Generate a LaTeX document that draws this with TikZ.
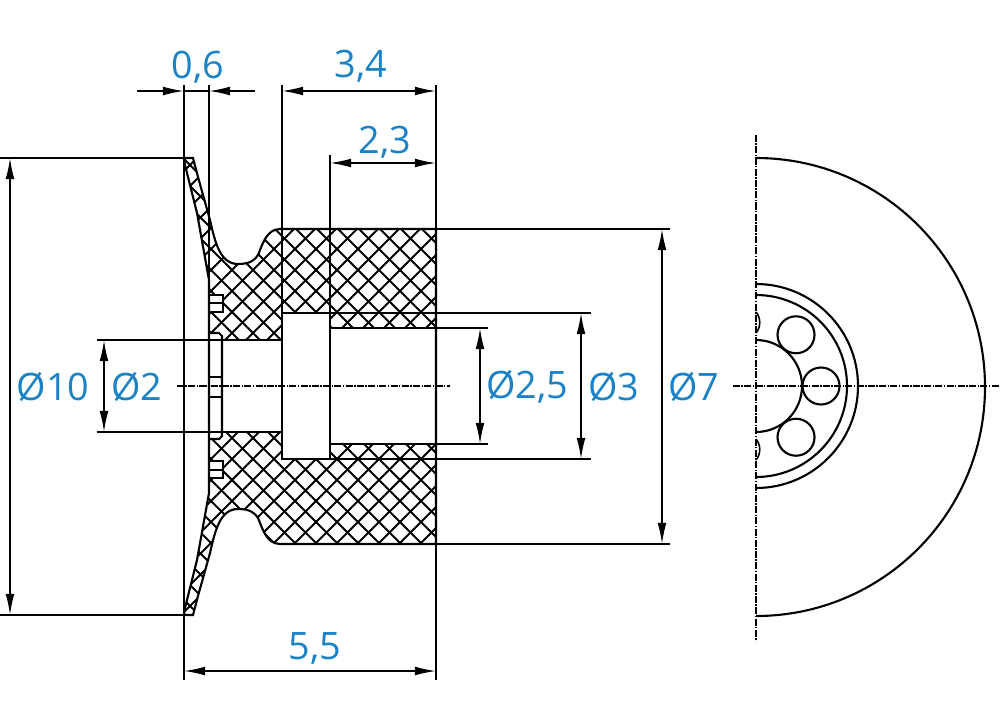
\documentclass[tikz,border=0pt]{standalone}
\usepackage{fontspec}
\setmainfont{Open Sans}
\usetikzlibrary{arrows.meta}
\definecolor{dimblue}{HTML}{1B82C5}
\tikzset{
  edge/.style={line width=1.2pt,black},
  thin edge/.style={line width=0.9pt,black},
  hatchline/.style={line width=1.1pt,black},
  axis/.style={line width=0.7pt,black,dash pattern=on 4pt off 0.8pt on 0.8pt off 0.8pt},
  dimline/.style={line width=0.9pt,black,{Latex[length=12pt,width=5pt]}-{Latex[length=12pt,width=5pt]}},
  oneway/.style={line width=0.9pt,black,-{Latex[length=12pt,width=5pt]}},
  dimtext/.style={text=dimblue,inner sep=0pt,font=\fontsize{21.5}{24}\selectfont}
}
\newcommand{\sectionoutline}{(185,165) -- (184,158) -- (193,158) -- (198,177) -- (210,220)
  .. controls (215,242) and (220,264) .. (238,264)
  .. controls (250,264) and (255,260) .. (258,255)
  .. controls (262,246) and (266,229) .. (280,229) -- (436,229) -- (436,544) -- (280,544)
  .. controls (266,544) and (262,527) .. (258,518)
  .. controls (255,513) and (250,509) .. (238,509)
  .. controls (220,509) and (215,531) .. (210,553)
  -- (198,596) -- (193,615) -- (184,615) -- (185,608) -- (197,560) -- (209,493) -- (209,280) -- (197,213) -- cycle}
\begin{document}
\begin{tikzpicture}[x=0.02cm,y=-0.02cm]
  \useasboundingbox (0,0) rectangle (1000,714);
  % hatching of the cut
  \begin{scope}
    \clip \sectionoutline;
    \foreach \i in {-392,-371,...,440} \draw[hatchline] (\i,150) -- ++(470,470);
    \foreach \i in {184,205,...,920} \draw[hatchline] (\i,150) -- ++(-470,470);
  \end{scope}
  % bore and tabs
  \fill[white] (209,340) rectangle (282,432);
  \fill[white] (282,313) rectangle (330,459);
  \fill[white] (330,328) rectangle (436,444);
  \fill[white] (209,333) rectangle (222,340);
  \fill[white] (209,432) rectangle (222,439);
  \fill[white] (209,295) rectangle (223,312);
  \fill[white] (209,461) rectangle (223,478);
  \draw[edge] \sectionoutline;
  \draw[edge] (209,295) -| (223,312) -- (209,312) (209,303) -- (223,303);
  \draw[edge] (209,461) -| (223,478) -- (209,478) (209,470) -- (223,470);
  \draw[edge] (209,333) -- (219,333) -- (222,336) -- (222,436) -- (219,439) -- (209,439);
  \draw[edge] (209,377) -- (222,377) (209,397) -- (222,397);
  \draw[edge] (282,313) rectangle (330,459);
  \draw[edge] (330,328) -- (436,328) (330,444) -- (436,444);
  \draw[edge] (222,340) -- (282,340) (222,432) -- (282,432);
  % extension lines
  \coordinate (a0) at (184,85);
  \coordinate (b0) at (184,680);
  \coordinate (a1) at (209,85);
  \coordinate (b1) at (209,280);
  \coordinate (a2) at (282,85);
  \coordinate (b2) at (282,459);
  \coordinate (a3) at (330,155);
  \coordinate (b3) at (330,328);
  \coordinate (a4) at (436,85);
  \coordinate (b4) at (436,680);
  \draw[thin edge] (a0) -- (b0);
  \draw[thin edge] (a1) -- (b1);
  \draw[thin edge] (a2) -- (b2);
  \draw[thin edge] (a3) -- (b3);
  \draw[thin edge] (a4) -- (b4);
  \draw[thin edge] (0,158) -- (193,158) (0,615) -- (193,615);
  \draw[thin edge] (97,340) -- (222,340) (97,432) -- (222,432);
  \draw[thin edge] (436,328) -- (488,328) (436,444) -- (488,444);
  \draw[thin edge] (330,313) -- (591,313) (330,459) -- (591,459);
  \draw[thin edge] (436,229) -- (670,229) (436,544) -- (670,544);
  % dimensions
  \coordinate (c0) at (184,91);
  \coordinate (c1) at (209,91);
  \coordinate (c2) at (282,91);
  \coordinate (c3) at (436,91);
  \coordinate (c4) at (330,163);
  \coordinate (c5) at (436,163);
  \coordinate (c6) at (184,671);
  \coordinate (c7) at (436,671);
  \coordinate (l1) at (137,91);
  \coordinate (l2) at (255,91);
  \draw[oneway] (l1) -- (c0);
  \draw[oneway] (l2) -- (c1);
  \draw[thin edge] (c0) -- (c1);
  \draw[dimline] (c2) -- (c3);
  \draw[dimline] (c4) -- (c5);
  \draw[dimline] (c6) -- (c7);
  \draw[dimline] (10,158) -- (10,615);
  \draw[dimline] (104,340) -- (104,432);
  \draw[dimline] (480,328) -- (480,444);
  \draw[dimline] (581,313) -- (581,459);
  \draw[dimline] (662,229) -- (662,544);
  \node[dimtext] (w06) at (198,67) {0,6};
  \node[dimtext] (w34) at (361,66) {3,4};
  \node[dimtext] (w23) at (385,142) {2,3};
  \node[dimtext] (w55) at (315,648) {5,5};
  \node[dimtext] (d10) at (53,387) {Ø10};
  \node[dimtext] (d2) at (137,387) {Ø2};
  \node[dimtext] (d25) at (527,387) {Ø2,5};
  \node[dimtext] (d3) at (614,387) {Ø3};
  \node[dimtext] (d7) at (694,387) {Ø7};
  % axes
  \draw[axis] (177,386) -- (450,386);
  \draw[axis] (733,386) -- (1000,386);
  \draw[axis] (756,135) -- (756,641);
  % end view
  \draw[edge] (756,158) arc[start angle=-90,end angle=90,radius=229];
  \draw[edge] (756,284) arc[start angle=-90,end angle=90,radius=102];
  \draw[edge] (756,295) arc[start angle=-90,end angle=90,radius=91];
  \draw[edge] (756,340) arc[start angle=-90,end angle=90,radius=46];
  \foreach \a in {-52,0,52} \draw[edge] (756,386) ++(\a:65) circle[radius=18.5];
  \draw[thin edge] (756,312) .. controls (761,318) and (761,327) .. (756,333);
  \draw[thin edge] (756,439) .. controls (761,445) and (761,454) .. (756,460);
\end{tikzpicture}
\end{document}
